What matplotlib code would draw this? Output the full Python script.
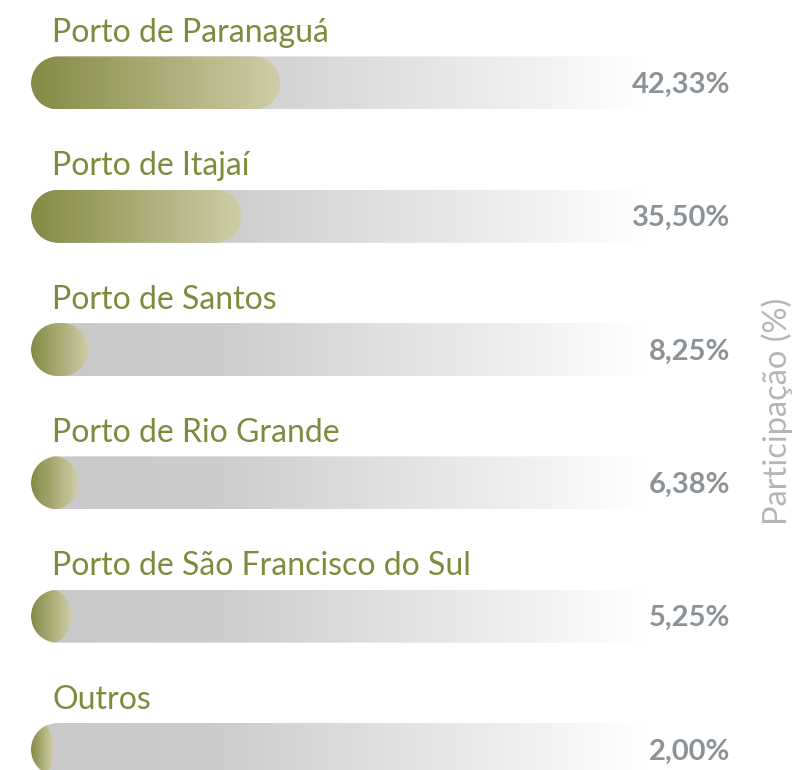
import numpy as np
import matplotlib
matplotlib.use("Agg")
import matplotlib.pyplot as plt
from matplotlib.path import Path
from matplotlib.patches import PathPatch
from matplotlib.colors import to_rgb

# Participação dos portos (%)
portos = ["Porto de Paranaguá", "Porto de Itajaí", "Porto de Santos",
          "Porto de Rio Grande", "Porto de São Francisco do Sul", "Outros"]
participacao = [42.33, 35.50, 8.25, 6.38, 5.25, 2.00]

W, H, DPI = 794, 770, 100
X0 = 31          # left edge of bars (px)
PX = 5.63        # px per percent
CAP = 1.9        # minimum rounded cap (percent units)
BG_LEN = 109     # grey track length (percent units)
ROW0, ROW_STEP = 83, 133.3   # px
BAR_H = 53 / ROW_STEP        # bar height in row units

fig = plt.figure(figsize=(W / DPI, H / DPI), dpi=DPI)
ax = fig.add_axes([0, 0, 1, 1])
ax.set_xlim(-X0 / PX, (W - X0) / PX)
ax.set_ylim((H - ROW0) / ROW_STEP, -ROW0 / ROW_STEP)
ax.axis("off")

rx = (53 / 2) / PX   # radius of bar ends in x data units
hy = BAR_H / 2


def pill(x0, x1, yc, round_right=True):
    w = x1 - x0
    if w < 2 * rx:
        t = np.linspace(0, 2 * np.pi, 120)
        pts = np.c_[x0 + w / 2 + w / 2 * np.cos(t), yc + hy * np.sin(t)]
    else:
        t1 = np.linspace(np.pi / 2, 3 * np.pi / 2, 60)
        left = np.c_[x0 + rx + rx * np.cos(t1), yc + hy * np.sin(t1)]
        if round_right:
            t2 = np.linspace(-np.pi / 2, np.pi / 2, 60)
            right = np.c_[x1 - rx + rx * np.cos(t2), yc + hy * np.sin(t2)]
        else:
            right = np.array([[x1, yc - hy], [x1, yc + hy]])
        pts = np.r_[left, right]
    pts = np.r_[pts, pts[:1]]
    return Path(pts, closed=True)


def gradient(stops, colors, n=256):
    xs = np.linspace(0, 1, n)
    rgb = np.array([to_rgb(c) for c in colors])
    arr = np.stack([np.interp(xs, stops, rgb[:, k]) for k in range(3)], axis=-1)
    return arr[np.newaxis, :, :]


bg_grad = gradient([0, 0.3, 0.85, 1], ["#c9c9c9", "#cccccc", "#f2f3f4", "#ffffff"])
fill_grad = gradient([0, 1], ["#858a45", "#cfcda6"])

label_color = "#7f8a3c"
pct_color = "#8c9398"

for i, (nome, v) in enumerate(zip(portos, participacao)):
    yc = i
    # grey track
    bg_path = pill(0, BG_LEN, yc, round_right=False)
    bg_patch = PathPatch(bg_path, facecolor="none", edgecolor="none")
    ax.add_patch(bg_patch)
    im = ax.imshow(bg_grad, extent=[0, BG_LEN, yc + hy, yc - hy], aspect="auto",
                   interpolation="bilinear", zorder=1)
    im.set_clip_path(bg_patch)

    # value bar
    x1 = v + CAP
    f_path = pill(0, x1, yc)
    f_patch = PathPatch(f_path, facecolor="none", edgecolor="none")
    ax.add_patch(f_patch)
    im2 = ax.imshow(fill_grad, extent=[0, x1, yc + hy, yc - hy], aspect="auto",
                    interpolation="bilinear", zorder=2)
    im2.set_clip_path(f_patch)

    # white mask on the corners outside the track's rounded left end
    t = np.linspace(np.pi / 2, 3 * np.pi / 2, 60)
    arc = np.c_[rx + rx * np.cos(t), yc + hy * np.sin(t)]
    for sgn in (1, -1):
        half = arc[(arc[:, 1] - yc) * sgn >= 0]
        pts = np.r_[half, [[0, yc + sgn * hy]]]
        ax.add_patch(PathPatch(Path(np.r_[pts, pts[:1]], closed=True),
                               facecolor="white", edgecolor="none", zorder=3))

    ax.text((52 - X0) / PX, yc - 41 / ROW_STEP, nome, fontsize=23, color=label_color,
            family="Lato", va="baseline", ha="left")
    ax.text((730 - X0) / PX, yc + 2 / ROW_STEP, f"{v:.2f}".replace(".", ",") + "%",
            fontsize=21, color=pct_color, family="Lato", fontweight="bold",
            va="center", ha="right")

fig.text(777 / W, 1 - 411.5 / H, "Participação (%)", rotation=90, fontsize=23.5,
         color="#b3b6b9", family="Lato", ha="center", va="center")

fig.savefig("out.png", dpi=DPI)
